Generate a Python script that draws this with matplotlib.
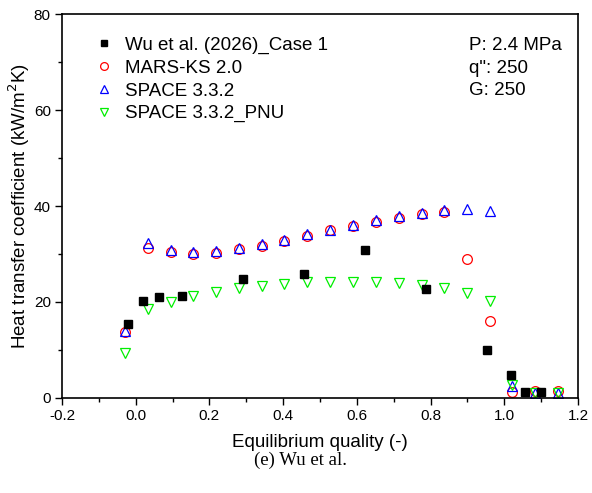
import matplotlib.pyplot as plt
from matplotlib.ticker import MultipleLocator

plt.rcParams['font.family'] = ['Liberation Sans', 'DejaVu Sans']

# experimental data
wu_x = [-0.021, 0.021, 0.062, 0.126, 0.290, 0.456, 0.622, 0.788, 0.954, 1.017, 1.057, 1.100]
wu_y = [15.4, 20.3, 21.0, 21.3, 24.8, 25.8, 30.8, 22.8, 9.9, 4.8, 1.3, 1.2]

# code predictions share the same quality points
calc_x = [-0.028, 0.033, 0.095, 0.156, 0.218, 0.280, 0.342, 0.403, 0.465, 0.528, 0.590,
          0.652, 0.713, 0.776, 0.837, 0.899, 0.960, 1.022, 1.083, 1.145]
mars_y = [13.8, 31.2, 30.5, 30.1, 30.3, 31.0, 31.7, 32.7, 33.8, 34.9, 35.8,
          36.7, 37.6, 38.3, 38.8, 28.9, 16.1, 1.3, 1.5, 1.5]
space_y = [14.0, 32.2, 30.8, 30.4, 30.7, 31.3, 32.1, 33.0, 34.1, 35.1, 36.1,
           37.1, 37.9, 38.6, 39.2, 39.3, 39.0, 2.4, 1.0, 1.0]
pnu_y = [9.4, 18.5, 19.9, 21.3, 22.1, 23.0, 23.4, 23.8, 24.1, 24.2, 24.2,
         24.1, 23.9, 23.5, 22.9, 21.9, 20.3, 2.7, 1.0, 1.0]

fig = plt.figure(figsize=(5.92, 4.93), dpi=100)
ax = fig.add_axes([0.1047, 0.1927, 0.8717, 0.7789])

ax.plot(wu_x, wu_y, 's', color='black', markersize=6, label='Wu et al. (2026)_Case 1', zorder=3)
ax.plot(calc_x, mars_y, 'o', mfc='none', mec='red', markersize=7, mew=0.9, label='MARS-KS 2.0')
ax.plot(calc_x, space_y, '^', mfc='none', mec='blue', markersize=7.5, mew=0.9, label='SPACE 3.3.2')
ax.plot(calc_x, pnu_y, 'v', mfc='none', mec='#00ee00', markersize=7.5, mew=0.9, label='SPACE 3.3.2_PNU')

ax.set_xlim(-0.2, 1.2)
ax.set_ylim(0, 80)
ax.xaxis.set_major_locator(MultipleLocator(0.2))
ax.xaxis.set_minor_locator(MultipleLocator(0.1))
ax.yaxis.set_major_locator(MultipleLocator(20))
ax.yaxis.set_minor_locator(MultipleLocator(10))
ax.tick_params(which='major', direction='out', length=5, width=1, labelsize=11, pad=3)
ax.tick_params(which='minor', direction='out', length=3, width=1)
ax.set_xticks([-0.2, 0.0, 0.2, 0.4, 0.6, 0.8, 1.0, 1.2])
ax.set_xticklabels(['-0.2', '0.0', '0.2', '0.4', '0.6', '0.8', '1.0', '1.2'])
for s in ax.spines.values():
    s.set_linewidth(1.2)

ax.set_xlabel('Equilibrium quality (-)', fontsize=13.5, labelpad=8)
ax.set_ylabel('Heat transfer coefficient (kW/m$^2$K)', fontsize=13.5)
ax.yaxis.set_label_coords(-0.058, 0.5)

ax.legend(loc='upper left', frameon=False, fontsize=13.5, handletextpad=0.5,
          labelspacing=0.3, bbox_to_anchor=(0.035, 0.975), handlelength=1.2,
          markerscale=0.8, borderaxespad=0.3)

ax.text(0.788, 0.939, 'P: 2.4 MPa\nq": 250\nG: 250', transform=ax.transAxes,
        fontsize=13.5, va='top', ha='left', linespacing=1.42)

fig.text(0.508, 0.067, '(e) Wu et al.', family=['Liberation Serif', 'DejaVu Serif'],
         fontsize=13.5, ha='center', va='center')

fig.savefig('out.png', dpi=100)
